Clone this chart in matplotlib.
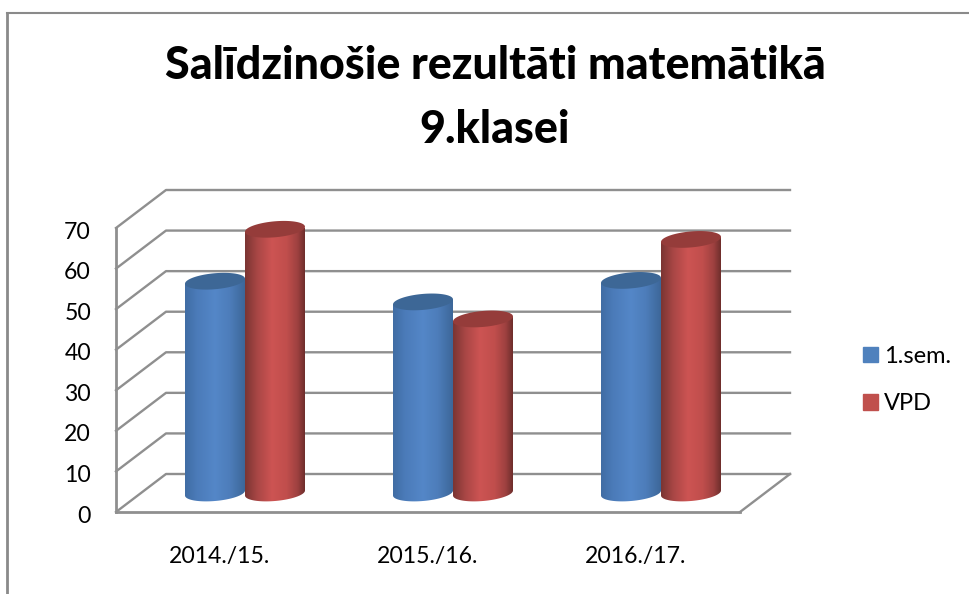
import matplotlib
matplotlib.use("Agg")
import matplotlib.pyplot as plt
import numpy as np
from matplotlib.colors import LinearSegmentedColormap
from matplotlib.lines import Line2D
from matplotlib.patches import Patch, PathPatch
from matplotlib.path import Path
from matplotlib.transforms import ScaledTranslation

plt.rcParams['font.family'] = ['Lato', 'DejaVu Sans']

title = "Salīdzinošie rezultāti matemātikā\n9.klasei"
years = ['2014./15.', '2015./16.', '2016./17.']
sem1 = [52.2, 47.1, 52.4]
vpd = [65.0, 42.9, 62.5]
yticks = [0, 10, 20, 30, 40, 50, 60, 70]

W, H = 970, 594
fig = plt.figure(figsize=(W / 100, H / 100), dpi=100)

# front plane of the fake 3d box, in pixels of the picture
L, R, B, T = 116, 740, 512, 228
ax = fig.add_axes([L / W, 1 - B / H, (R - L) / W, (B - T) / H])
ax.set_xlim(-0.5, 2.5)
ax.set_ylim(0, 70)
ax.patch.set_visible(False)

px_x = 3 / (R - L)
px_y = 70 / (B - T)
depth_x = 50 * px_x
depth_y = 38 * px_y
grid_col = '#8f8f8f'

for s in ['top', 'right']:
    ax.spines[s].set_visible(False)
for s in ['left', 'bottom']:
    ax.spines[s].set_color(grid_col)
    ax.spines[s].set_linewidth(2)

ax.set_xticks(range(3), years)
ax.set_yticks(yticks)
ax.tick_params(length=0, labelsize=16.6, colors='black')
ax.tick_params(axis='x', pad=24.5)
ax.tick_params(axis='y', pad=18)

# y labels sit a bit lower than matplotlib centres them
for lbl in ax.get_yticklabels():
    lbl.set_transform(lbl.get_transform() + ScaledTranslation(0, -1.5 / 72, fig.dpi_scale_trans))

# back wall and side wall lines
for v in yticks:
    ax.plot([-0.5, -0.5 + depth_x, 2.5 + depth_x], [v, v + depth_y, v + depth_y],
            color=grid_col, lw=1.7, clip_on=False, zorder=1)
ax.plot([2.5, 2.5 + depth_x], [0, depth_y], color=grid_col, lw=1.7, clip_on=False, zorder=1)

blue_cm = LinearSegmentedColormap.from_list('b', [
    (0, '#406da4'), (0.2, '#4b7bb9'), (0.5, '#5487c8'), (0.75, '#4d7dba'), (1, '#3d6799')])
red_cm = LinearSegmentedColormap.from_list('r', [
    (0, '#7b3533'), (0.2, '#a84645'), (0.45, '#cd5453'), (0.7, '#c04e4c'), (0.88, '#9e4140'), (1, '#6f2e2c')])
grad = np.linspace(0, 1, 128).reshape(1, -1)

bar_w = 60 * px_x
ell_h = 16 * px_y
tilt = 5 * px_y / bar_w


def cylinder(xc, val, cmap, top_col):
    cx = xc + depth_x / 2
    x0 = cx - bar_w / 2
    x1 = cx + bar_w / 2
    y0 = depth_y / 2
    y1 = y0 + val
    # round ends lean a little, rising to the right
    t = np.linspace(np.pi, 2 * np.pi, 40)
    ax_ = cx + bar_w / 2 * np.cos(t)
    low = y0 + ell_h / 2 * np.sin(t) + tilt * (ax_ - cx)
    top_edge = y1 + tilt * (ax_ - cx)
    verts = list(zip(ax_, low)) + list(zip(ax_[::-1], top_edge[::-1]))
    verts.append(verts[0])
    clip = PathPatch(Path(verts), transform=ax.transData, fc='none', ec='none')
    ax.add_patch(clip)
    im = ax.imshow(grad, cmap=cmap, extent=[x0, x1, y0 - ell_h, y1 + ell_h], aspect='auto', zorder=3)
    im.set_clip_path(clip)
    a = np.linspace(0, 2 * np.pi, 80)
    ex = cx + bar_w / 2 * np.cos(a)
    ey = y1 + ell_h / 2 * np.sin(a) + tilt * (ex - cx)
    ax.fill(ex, ey, color=top_col, lw=0, zorder=3, clip_on=False)


for i in range(len(years)):
    cylinder(i - bar_w / 2, sem1[i], blue_cm, '#3d6796')
    cylinder(i + bar_w / 2, vpd[i], red_cm, '#953c3a')

ax.set_xlim(-0.5, 2.5)
ax.set_ylim(0, 70)

fig.text(495 / W, 1 - 98 / H, title, ha='center', va='center', fontsize=32.2,
         fontweight='black', linespacing=1.64)

handles = [Patch(color='#4f81bd'), Patch(color='#c0504d')]
fig.legend(handles, ['1.sem.', 'VPD'], loc='upper left',
           bbox_to_anchor=(863 / W, 1 - 346 / H), frameon=False, fontsize=17,
           handlelength=0.63, handleheight=0.63, handletextpad=0.25,
           labelspacing=1.12, borderpad=0, borderaxespad=0)

# outer frame
fig.add_artist(Line2D([7 / W, 7 / W], [0, 1 - 13 / H], color='#8a8a8a', lw=2))
fig.add_artist(Line2D([7 / W, 968 / W], [1 - 13 / H, 1 - 13 / H], color='#8a8a8a', lw=1.5))

fig.savefig('out.png', dpi=100)
